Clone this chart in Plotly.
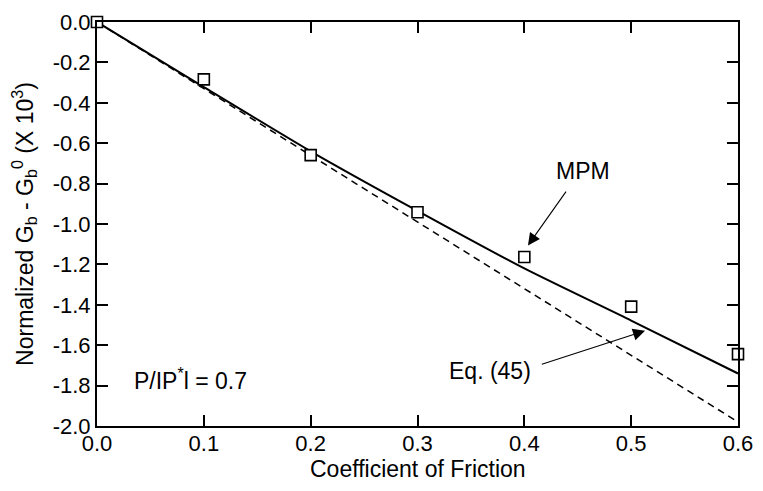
import plotly.graph_objects as go

# Data
mu_points = [0.0, 0.1, 0.2, 0.3, 0.4, 0.5, 0.6]
g_points = [0.0, -0.284, -0.659, -0.942, -1.163, -1.409, -1.644]

mu_mpm = [0.0, 0.1, 0.2, 0.3, 0.4, 0.5, 0.6]
g_mpm = [0.0, -0.322, -0.640, -0.935, -1.220, -1.478, -1.740]

mu_eq = [0.0, 0.6]
g_eq = [0.0, -1.98]

x_ticks = [0.0, 0.1, 0.2, 0.3, 0.4, 0.5, 0.6]
x_labels = ["0.0", "0.1", "0.2", "0.3", "0.4", "0.5", "0.6"]
y_ticks = [0.0, -0.2, -0.4, -0.6, -0.8, -1.0, -1.2, -1.4, -1.6, -1.8, -2.0]
y_labels = ["0.0", "-0.2", "-0.4", "-0.6", "-0.8", "-1.0", "-1.2", "-1.4", "-1.6", "-1.8", "-2.0"]

x_title = "Coefficient of Friction"
y_title = "Normalized G<sub>b</sub> - G<sub>b</sub><sup>0</sup> (X 10<sup>3</sup>)"

FONT = "Liberation Sans, Arial, Helvetica, sans-serif"

fig = go.Figure()
fig.add_trace(go.Scatter(x=mu_eq, y=g_eq, mode="lines",
                         line=dict(color="black", width=1.5, dash="7px,5px"),
                         showlegend=False, cliponaxis=False))
fig.add_trace(go.Scatter(x=mu_mpm, y=g_mpm, mode="lines",
                         line=dict(color="black", width=2, shape="spline", smoothing=0.6),
                         showlegend=False, cliponaxis=False))
fig.add_trace(go.Scatter(x=mu_points, y=g_points, mode="markers",
                         marker=dict(symbol="square", size=11, color="white",
                                     line=dict(color="black", width=1.6)),
                         showlegend=False, cliponaxis=False))

axis_common = dict(showline=True, linecolor="black", linewidth=2, mirror="ticks",
                   ticks="inside", ticklen=11, tickwidth=2, tickcolor="black",
                   showgrid=False, zeroline=False, ticklabeloverflow="allow",
                   tickfont=dict(family=FONT, size=22, color="black"))

fig.update_xaxes(range=[0, 0.6], tickvals=x_ticks, ticktext=x_labels,
                 ticklabelstandoff=-3, **axis_common)
fig.update_yaxes(range=[-2.0, 0.0], tickvals=y_ticks, ticktext=y_labels, **axis_common)

annots = [
    dict(x=0.5, y=-0.107, xref="paper", yref="paper", text=x_title, showarrow=False,
         xanchor="center", yanchor="middle", font=dict(family=FONT, size=23, color="black")),
    dict(x=-0.114, y=0.5, xref="paper", yref="paper", text=y_title, showarrow=False,
         textangle=-90, xanchor="center", yanchor="middle",
         font=dict(family=FONT, size=23, color="black")),
    dict(x=0.4034, y=-1.106, ax=0.440, ay=-0.832, xref="x", yref="y", axref="x", ayref="y",
         text="", showarrow=True, arrowhead=2, arrowsize=2.2, arrowwidth=1.1, arrowcolor="black"),
    dict(x=0.455, y=-0.736, text="MPM", showarrow=False, xref="x", yref="y",
         font=dict(family=FONT, size=23, color="black")),
    dict(x=0.513, y=-1.529, ax=0.415, ay=-1.697, xref="x", yref="y", axref="x", ayref="y",
         text="", showarrow=True, arrowhead=2, arrowsize=2.2, arrowwidth=1.1, arrowcolor="black"),
    dict(x=0.368, y=-1.726, text="Eq. (45)", showarrow=False, xref="x", yref="y",
         font=dict(family=FONT, size=23, color="black")),
    dict(x=0.033, y=-1.765, text="P/IP<sup>*</sup>l = 0.7", showarrow=False, xref="x", yref="y",
         xanchor="left", font=dict(family=FONT, size=23, color="black")),
]
fig.update_layout(annotations=annots)

fig.update_layout(width=763, height=491, margin=dict(l=97, r=16, t=10, b=65),
                  plot_bgcolor="white", paper_bgcolor="white",
                  font=dict(family=FONT, color="black"))

fig.write_html("out.html", config={"displayModeBar": False},
               post_script="document.body.style.margin='0';document.body.style.overflow='hidden';")
